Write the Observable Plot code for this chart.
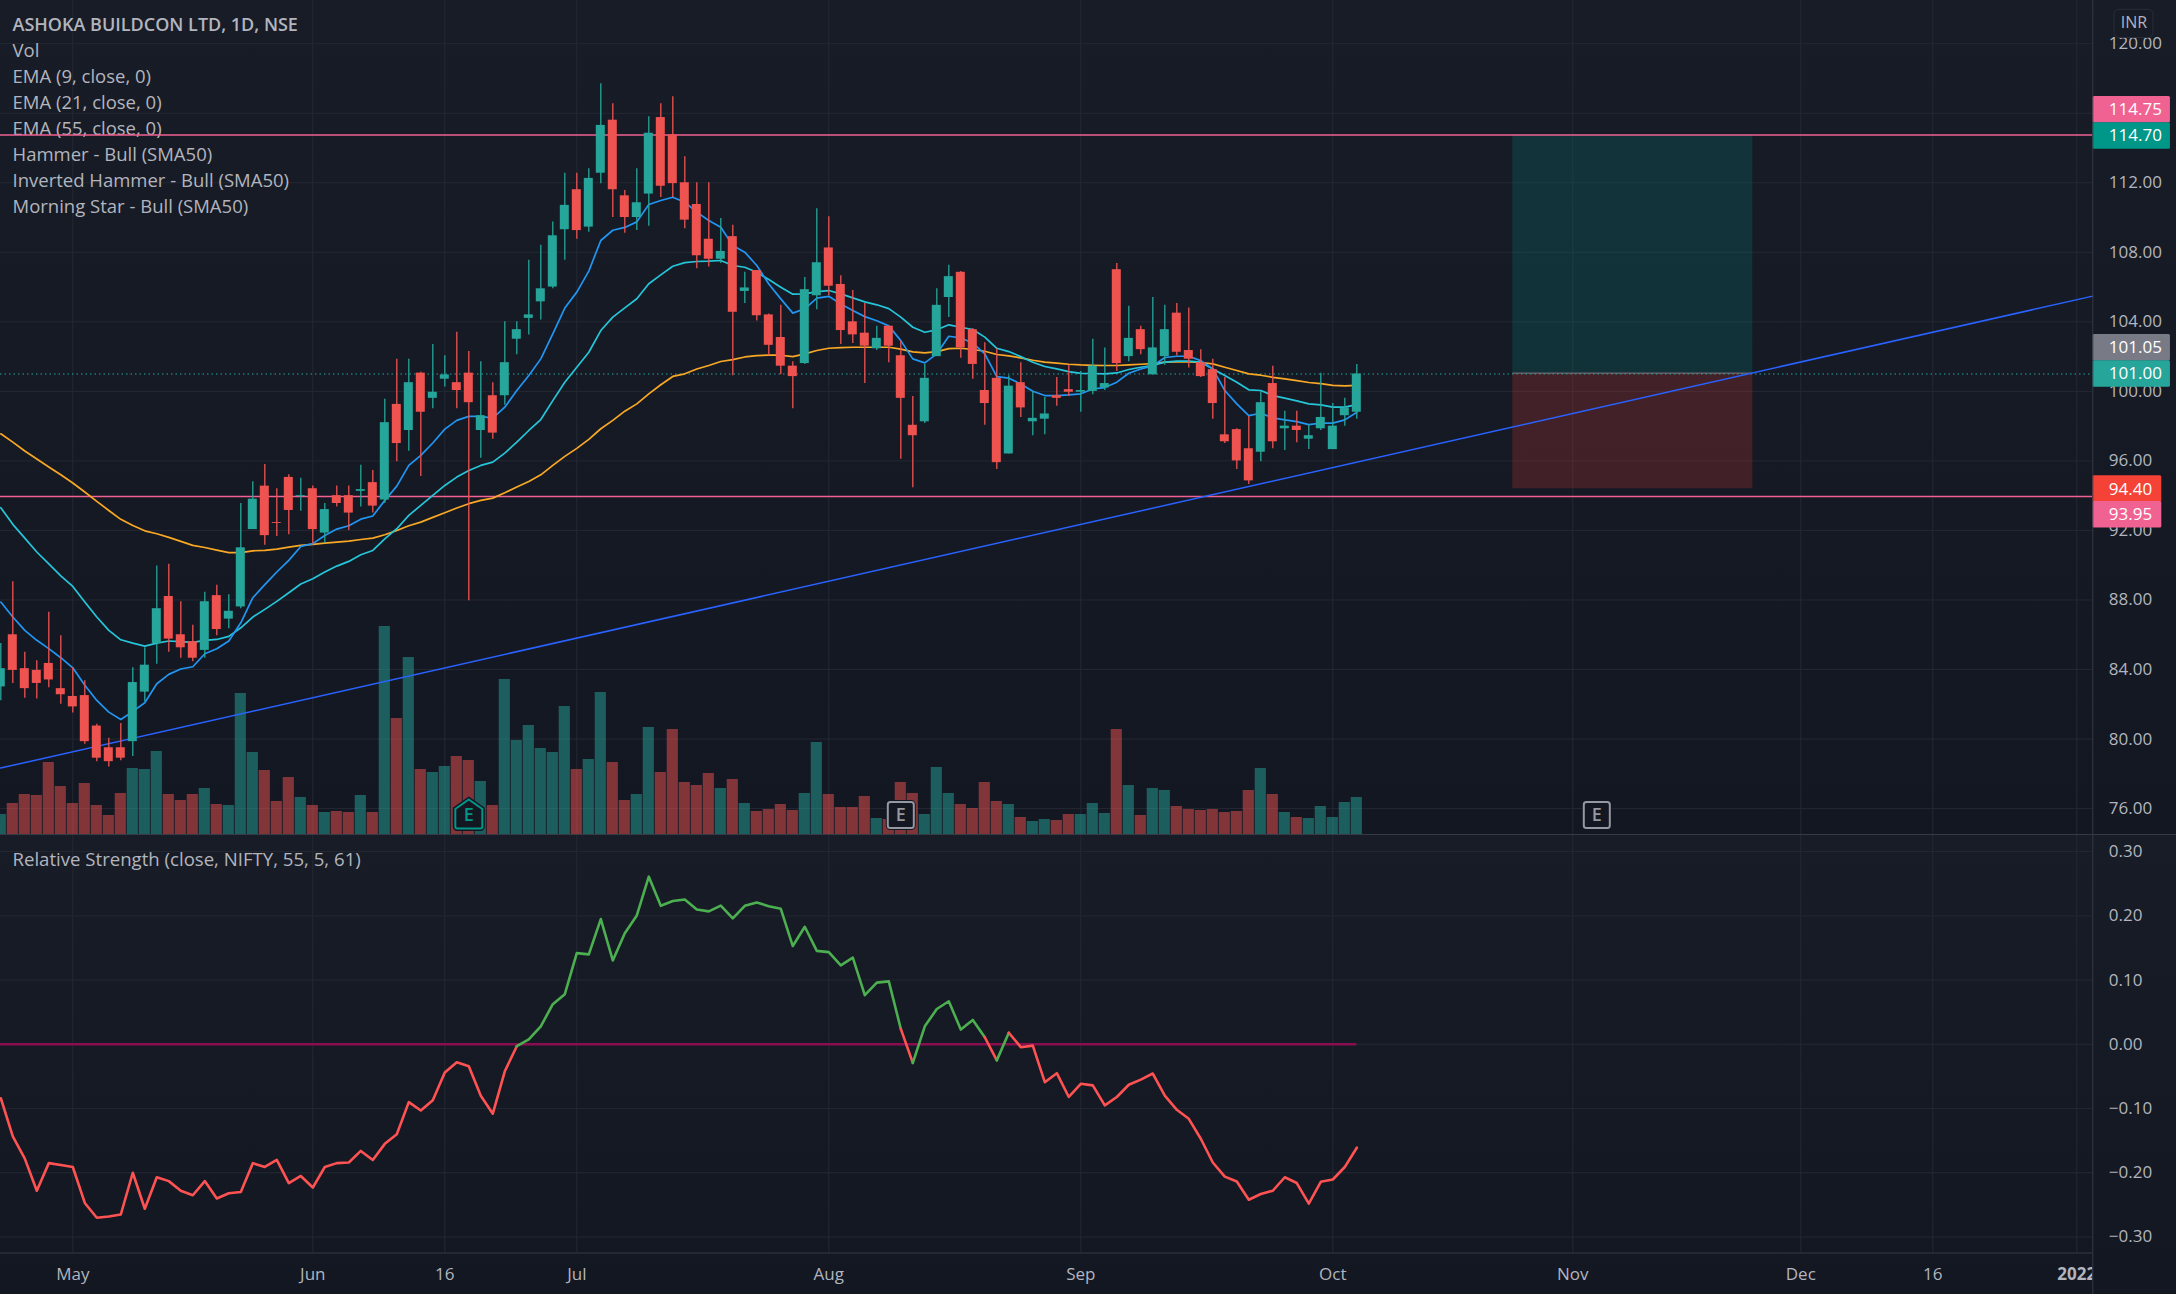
<!DOCTYPE html>
<html><head><meta charset="utf-8">
<script src="https://cdn.jsdelivr.net/npm/d3@7"></script>
<script src="https://cdn.jsdelivr.net/npm/@observablehq/plot@0.6"></script>
<style>
html,body{margin:0;padding:0;background:#131722}
#chart{position:relative;width:2176px;height:1294px;overflow:hidden}
.pane{position:absolute;left:0;width:2176px;background:linear-gradient(#181c27,#131722)}
.pane svg{position:absolute;left:0;top:0;background:transparent}
</style></head><body><div id="chart">
<div class="pane" id="top" style="top:0;height:834px"></div>
<div class="pane" id="low" style="top:834px;height:460px"></div>
</div>
<script>
// bar numbers count trading sessions from 3 May 2021
const firstBar = -6;
const opens = [
83.0,86.0,84.05,83.95,84.35,82.9,82.45,82.5,80.75,79.5,
79.5,79.85,82.7,85.5,88.2,86.0,85.6,85.1,88.25,86.9,
87.6,92.05,94.55,92.45,95.05,93.95,94.4,91.85,94.0,94.0,
94.25,94.75,93.75,99.25,97.75,101.05,99.6,100.7,100.5,101.05,
97.75,99.75,99.75,103.0,104.2,105.15,106.0,109.3,111.6,109.45,
112.55,115.6,111.25,110.0,111.35,115.75,114.75,112.0,110.75,108.75,
107.6,108.9,105.75,106.95,104.4,103.1,101.45,101.6,105.5,108.25,
106.15,104.0,103.35,102.45,103.75,102.05,98.05,98.25,102.0,105.4,
106.85,103.55,100.05,100.75,96.4,100.5,98.25,98.4,99.75,100.1,
99.95,100.0,100.2,107.0,102.0,103.55,100.95,102.0,104.5,102.35,
101.65,101.25,97.5,97.8,96.7,96.5,100.45,97.85,98.0,97.25,
97.85,96.65,98.6,98.8];
const highs = [
85.5,89.05,85.0,84.5,87.3,85.95,84.1,83.35,80.85,80.05,
80.9,84.1,85.25,89.95,90.05,87.9,86.55,88.45,88.85,88.3,
93.55,94.8,95.8,94.4,95.2,95.0,94.55,93.55,94.55,94.55,
95.75,95.45,99.55,101.85,101.85,101.1,102.7,102.05,103.4,102.3,
101.7,100.5,104.0,104.0,107.55,108.4,109.75,112.55,112.55,112.8,
117.7,116.55,111.55,112.8,115.8,116.55,116.95,113.5,112.0,112.0,
109.95,109.55,106.85,106.95,104.45,104.95,101.7,106.55,110.5,110.05,
106.65,105.8,105.05,103.75,103.75,102.9,99.7,101.55,105.9,107.25,
106.9,103.6,102.8,102.45,100.9,101.65,100.0,99.65,100.8,101.5,
101.15,103.0,102.5,107.35,104.9,103.75,105.4,104.95,105.05,104.8,
102.4,101.85,100.8,97.85,98.55,100.0,101.45,98.85,98.85,98.1,
101.05,99.3,99.6,101.55];
const lows = [
82.2,83.2,82.35,82.3,82.95,82.0,81.5,79.7,78.7,78.4,
78.75,79.0,82.15,84.3,85.0,84.65,84.45,84.65,85.95,86.35,
87.5,92.05,91.15,91.65,91.75,93.1,91.2,91.25,93.35,92.0,
93.35,93.0,93.55,95.95,96.55,95.1,99.0,100.25,99.0,87.95,
96.15,97.25,99.2,102.1,103.25,104.1,105.9,107.55,108.75,109.15,
111.95,110.0,109.1,109.25,109.5,111.15,111.15,109.35,107.05,107.15,
107.35,100.9,105.05,104.05,102.05,100.95,99.0,101.55,104.7,105.5,
102.7,102.75,100.45,102.35,101.65,96.1,94.45,98.15,102.0,104.25,
101.9,100.7,98.05,95.5,96.4,98.5,97.45,97.5,99.15,99.7,
98.8,99.8,100.05,101.15,101.7,102.1,100.95,101.5,102.05,101.35,
100.8,98.4,97.0,95.5,94.65,95.95,96.7,96.6,97.05,96.65,
97.75,96.65,98.0,98.4];
const closes = [
84.05,83.95,82.9,83.2,83.4,82.55,81.85,79.85,78.9,78.7,
78.9,83.25,84.25,87.5,85.75,85.25,84.65,87.9,86.3,87.35,
91.0,93.8,91.7,92.4,93.15,94.0,92.05,93.2,93.55,93.0,
94.35,93.4,98.2,97.0,100.5,98.8,99.95,100.95,100.05,99.35,
98.6,97.6,101.65,103.55,104.4,105.9,108.95,110.7,109.25,112.25,
115.3,111.6,110.0,110.85,114.85,111.8,111.95,109.85,107.8,107.6,
108.05,104.55,105.95,104.35,102.65,101.45,100.85,105.85,107.4,106.05,
103.5,103.25,102.6,103.05,102.6,99.6,97.45,100.75,104.95,106.6,
102.5,101.55,99.3,95.9,100.3,99.05,98.45,98.7,99.6,99.95,
100.05,101.45,100.45,101.6,103.05,102.4,102.5,103.55,102.25,101.85,
100.85,99.3,97.1,96.0,94.85,99.35,97.1,98.0,97.75,97.45,
98.5,98.0,99.05,101.0];
const volumes = [
60,93,120,117,216,144,93,153,87,57,
123,198,195,249,120,102,120,138,90,87,
423,246,192,99,171,111,87,66,69,66,
117,66,624,348,531,195,186,204,234,222,
159,87,465,282,327,258,246,384,195,225,
426,216,102,120,321,186,315,156,147,183,
138,165,93,69,75,90,72,123,276,120,
81,81,114,48,45,156,123,60,201,123,
90,78,156,99,90,51,39,45,42,60,
60,93,63,315,147,57,138,132,84,75,
72,75,66,69,132,198,120,66,51,48,
84,51,96,111];
const ema9 = [
87.88,87.02,86.25,85.68,85.2,84.68,84.1,83.09,82.22,81.55,
81.13,81.59,82.09,83.18,83.72,84.03,84.16,84.91,85.2,85.64,
86.69,88.13,88.88,89.61,90.28,91.08,91.24,91.71,92.08,92.27,
92.65,92.83,93.73,94.55,95.74,96.32,97.03,97.83,98.33,98.56,
98.56,98.46,99.09,100.05,100.91,101.87,103.31,104.79,105.71,106.92,
108.68,109.27,109.43,109.75,110.75,110.98,111.17,110.88,110.31,109.83,
109.44,108.39,108.01,107.24,106.18,105.32,104.5,104.75,105.36,105.47,
105.03,104.65,104.3,104.06,103.77,102.92,101.87,101.64,102.16,103.17,
103.08,102.77,102.16,100.85,100.76,100.43,100.01,99.76,99.76,99.8,
99.86,100.14,100.22,100.53,101.04,101.29,101.47,101.95,102.02,102.02,
101.77,101.29,100.05,99.28,98.61,98.74,98.48,98.36,98.26,98.09,
98.17,98.17,98.36,98.8];
const ema21 = [
93.31,92.35,91.56,90.76,90.08,89.39,88.78,87.88,87.02,86.25,
85.71,85.52,85.35,85.52,85.64,85.6,85.56,85.68,85.73,85.91,
86.4,87.02,87.46,87.92,88.42,88.92,89.22,89.61,89.95,90.22,
90.6,90.85,91.52,92.1,92.87,93.44,94.02,94.59,95.07,95.45,
95.74,95.93,96.45,97.08,97.75,98.38,99.47,100.53,101.39,102.25,
103.5,104.27,104.8,105.33,106.19,106.7,107.2,107.41,107.47,107.49,
107.53,107.24,107.14,106.85,106.43,105.99,105.59,105.61,105.74,105.8,
105.61,105.38,105.15,104.98,104.76,104.27,103.69,103.4,103.54,103.83,
103.69,103.56,103.12,102.48,102.29,102.0,101.68,101.43,101.29,101.14,
101.04,101.03,101.01,101.06,101.26,101.39,101.49,101.68,101.74,101.74,
101.68,101.29,100.91,100.53,100.09,100.05,99.76,99.61,99.45,99.28,
99.22,99.09,99.09,99.24];
const ema55 = [
97.56,97.08,96.57,96.11,95.65,95.2,94.73,94.21,93.67,93.15,
92.64,92.29,91.98,91.81,91.6,91.37,91.14,91.02,90.87,90.72,
90.72,90.83,90.85,90.93,91.04,91.14,91.2,91.27,91.33,91.39,
91.48,91.56,91.75,92.0,92.27,92.48,92.75,93.02,93.29,93.54,
93.73,93.86,94.17,94.5,94.82,95.2,95.74,96.26,96.72,97.24,
97.85,98.33,98.86,99.28,99.86,100.38,100.86,101.01,101.29,101.49,
101.72,101.83,101.98,102.06,102.08,102.08,102.0,102.16,102.35,102.48,
102.52,102.54,102.54,102.54,102.54,102.43,102.27,102.21,102.29,102.46,
102.48,102.41,102.31,102.12,102.04,101.93,101.79,101.68,101.62,101.56,
101.52,101.5,101.49,101.49,101.52,101.56,101.6,101.68,101.7,101.7,
101.66,101.58,101.39,101.2,101.01,100.93,100.81,100.72,100.62,100.51,
100.45,100.35,100.32,100.34];
const relStrength = [
-0.084,-0.1435,-0.178,-0.228,-0.185,-0.188,-0.191,-0.247,-0.27,-0.268,
-0.265,-0.2,-0.256,-0.207,-0.213,-0.228,-0.235,-0.213,-0.24,-0.232,
-0.23,-0.185,-0.191,-0.18,-0.216,-0.205,-0.223,-0.191,-0.185,-0.184,
-0.166,-0.18,-0.155,-0.14,-0.09,-0.103,-0.087,-0.044,-0.028,-0.034,
-0.08,-0.108,-0.042,-0.003,0.0075,0.028,0.0625,0.078,0.142,0.14,
0.195,0.1305,0.173,0.2006,0.261,0.2156,0.223,0.2255,0.21,0.207,
0.216,0.196,0.2156,0.2208,0.215,0.211,0.153,0.183,0.1455,0.1435,
0.123,0.135,0.0765,0.096,0.098,0.024,-0.029,0.028,0.055,0.067,
0.023,0.038,0.011,-0.025,0.018,-0.0045,-0.002,-0.059,-0.045,-0.082,
-0.0615,-0.064,-0.095,-0.082,-0.063,-0.055,-0.0455,-0.08,-0.102,-0.116,
-0.147,-0.184,-0.206,-0.2136,-0.242,-0.233,-0.228,-0.207,-0.216,-0.248,
-0.214,-0.2105,-0.191,-0.161];
// stretches of the relative strength line by colour: [first bar, last bar, is it above its average]
const rsRuns = [[-6,37,false],[37,69,true],[69,70,false],[70,76,true],[76,77,false],[77,78,true],[78,107,false]];

const priceTicks = [120,116,112,108,104,100,96,92,88,84,80,76];
const rsTicks = [0.3,0.2,0.1,0,-0.1,-0.2,-0.3];
const timeTickBars = [0,20,31,42,63,84,105,125,144,155];
const timeTickLabels = ["May","Jun","16","Jul","Aug","Sep","Oct","Nov","Dec","16"];
const yearTickBars = [167];
const yearTickLabels = ["2022"];
const legendLines = ["Vol","EMA (9, close, 0)","EMA (21, close, 0)","EMA (55, close, 0)","Hammer - Bull (SMA50)","Inverted Hammer - Bull (SMA50)","Morning Star - Bull (SMA50)"];
const titleText = "ASHOKA BUILDCON LTD, 1D, NSE";
const rsLegend = "Relative Strength (close, NIFTY, 55, 5, 61)";

const resistance = 114.75, support = 93.95, lastClose = 101.0;
const trendFrom = [-6.025,78.33], trendTo = [168.33,105.48];
const positionBars = [120,140], positionLevels = [114.75,101.05,94.4];
const earningsBars = [33,69,127];
const earningsPrice = 75.63;
// price tags on the right axis: text, price it is centred at
const tagTexts = ["114.75","114.70","101.05","101.00","94.40","93.95"];
const tagCentres = [116.2,114.69,102.51,101.0,94.38,92.9];
const tagColours = ["#f06292","#009688","#787b86","#26a69a","#f44336","#f06292"];
const tagWidths = [6.47,6.47,6.47,6.47,5.75,5.75];

const UP="#26a69a", DOWN="#ef5350", GRID="#242833", BORDER="#363a45", TEXT="#b2b5be";
const FONT="'Open Sans',sans-serif";
const rows = opens.map((o,k)=>({i:k+firstBar,open:o,high:highs[k],low:lows[k],close:closes[k],vol:volumes[k],e9:ema9[k],e21:ema21[k],e55:ema55[k],rs:relStrength[k]}));
const isUp = d=>d.close>=d.open;
const upRows = rows.filter(isUp), downRows = rows.filter(d=>!isUp(d));
const xOpts = {axis:null,domain:[-6.025,168.333],range:[0,2092.3]};
const mr = 83.7;
const gridBars = [...timeTickBars,...yearTickBars];
const barW=.375, volW=.465, xAxis=168.333, xEnd=182;
const labelFor = d=>timeTickLabels[timeTickBars.indexOf(d)];
const priceY = {axis:null,domain:[74.51,122.485],range:[834,0]};

// grid layer
document.getElementById("top").append(Plot.plot({
  width:2176,height:834,margin:0,marginRight:mr,
  x:xOpts,y:priceY,style:{background:"transparent"},
  marks:[
    Plot.gridX(gridBars,{stroke:GRID,strokeOpacity:1}),
    Plot.gridY(priceTicks,{stroke:GRID,strokeOpacity:1,x1:-6.025,x2:xAxis})
  ]}));
// volume layer
document.getElementById("top").append(Plot.plot({
  width:2176,height:834,margin:0,marginRight:mr,
  x:xOpts,y:{axis:null,domain:[0,2502],range:[834,0]},
  style:{background:"transparent"},
  marks:[
    Plot.rect(upRows,{x1:d=>d.i-volW,x2:d=>d.i+volW,y1:0,y2:"vol",fill:UP,fillOpacity:.5}),
    Plot.rect(downRows,{x1:d=>d.i-volW,x2:d=>d.i+volW,y1:0,y2:"vol",fill:DOWN,fillOpacity:.5})
  ]}));

const house = {draw(c,s){const r=Math.sqrt(s/Math.PI);
  c.moveTo(0,-r*1.15);c.lineTo(r,-r*.45);c.lineTo(r,r*.85);c.arcTo(r,r,r*.85,r,r*.15);c.lineTo(-r*.85,r);c.arcTo(-r,r,-r,r*.85,r*.15);c.lineTo(-r,-r*.45);c.closePath();}};
const roundSq = {draw(c,s){const r=Math.sqrt(s/Math.PI),q=r*.2;
  c.moveTo(-r+q,-r);c.lineTo(r-q,-r);c.arcTo(r,-r,r,-r+q,q);c.lineTo(r,r-q);c.arcTo(r,r,r-q,r,q);c.lineTo(-r+q,r);c.arcTo(-r,r,-r,r-q,q);c.lineTo(-r,-r+q);c.arcTo(-r,-r,-r+q,-r,q);c.closePath();}};

// price layer
document.getElementById("top").append(Plot.plot({
  width:2176,height:834,margin:0,marginRight:mr,
  x:xOpts,y:priceY,
  style:{background:"transparent",color:TEXT,fontFamily:FONT,fontSize:"17px"},
  marks:[
    Plot.text([titleText],{text:d=>d,frameAnchor:"top-left",dx:12,dy:24.7,lineAnchor:"middle",textAnchor:"start",fontWeight:600,fontSize:18,fill:TEXT}),
    ...legendLines.map((t,k)=>Plot.text([t],{text:d=>d,frameAnchor:"top-left",dx:12,dy:50.7+26*k,lineAnchor:"middle",textAnchor:"start",fontSize:18.5,fill:TEXT})),
    Plot.rect([0],{x1:positionBars[0],x2:positionBars[1],y1:positionLevels[0],y2:positionLevels[1],fill:"#009688",fillOpacity:.2}),
    Plot.rect([0],{x1:positionBars[0],x2:positionBars[1],y1:positionLevels[1],y2:positionLevels[2],fill:"#f44336",fillOpacity:.2}),
    Plot.ruleY([positionLevels[1]],{x1:positionBars[0],x2:positionBars[1],stroke:"#787b86",strokeWidth:1}),
    Plot.ruleY([lastClose],{x1:-6.025,x2:xAxis,stroke:UP,strokeWidth:1,strokeDasharray:"1.5 3"}),
    Plot.ruleY([resistance],{x1:-6.025,x2:xAxis,stroke:"#f06292",strokeWidth:1.4}),
    Plot.ruleY([support],{x1:-6.025,x2:xAxis,stroke:"#f06292",strokeWidth:1.4}),
    Plot.line([trendFrom,trendTo],{x:d=>d[0],y:d=>d[1],stroke:"#2962ff",strokeWidth:1.5}),
    Plot.line(rows,{x:"i",y:"e55",stroke:"#f9a825",strokeWidth:1.7}),
    Plot.line(rows,{x:"i",y:"e21",stroke:"#26c6da",strokeWidth:1.7}),
    Plot.line(rows,{x:"i",y:"e9",stroke:"#2196f3",strokeWidth:1.7}),
    Plot.ruleX(upRows,{x:"i",y1:"low",y2:"high",stroke:UP,strokeWidth:1.3}),
    Plot.ruleX(downRows,{x:"i",y1:"low",y2:"high",stroke:DOWN,strokeWidth:1.3}),
    Plot.rect(upRows,{x1:d=>d.i-barW,x2:d=>d.i+barW,y1:"open",y2:"close",fill:UP}),
    Plot.rect(downRows,{x1:d=>d.i-barW,x2:d=>d.i+barW,y1:"open",y2:"close",fill:DOWN}),
    Plot.dot([earningsBars[0]],{x:d=>d,y:earningsPrice,r:13.5,symbol:house,fill:"#131722",stroke:"#131722",strokeWidth:5}),
    Plot.dot([earningsBars[0]],{x:d=>d,y:earningsPrice,r:13.5,symbol:house,fill:"#131722",stroke:"#009688",strokeWidth:2}),
    Plot.text([earningsBars[0]],{x:d=>d,y:earningsPrice,text:()=>"E",fill:"#009688",fontSize:18,fontWeight:600}),
    Plot.dot(earningsBars.slice(1),{x:d=>d,y:earningsPrice,r:13,symbol:roundSq,fill:"#131722",stroke:"#131722",strokeWidth:4}),
    Plot.dot(earningsBars.slice(1),{x:d=>d,y:earningsPrice,r:13,symbol:roundSq,fill:"#131722",stroke:"#9598a1",strokeWidth:2}),
    Plot.text(earningsBars.slice(1),{x:d=>d,y:earningsPrice,text:()=>"E",fill:"#9598a1",fontSize:18,fontWeight:600}),
    Plot.axisY(priceTicks,{anchor:"right",tickSize:0,tickPadding:16,tickFormat:d3.format(".2f"),label:null,fill:TEXT}),
    Plot.rect([0],{x1:170.14,x2:173.39,y1:120.33,y2:121.95,fill:"#171b26",fillOpacity:.92,stroke:"#2a2e39",rx:5}),
    Plot.text(["INR"],{text:d=>d,x:171.76,y:121.17,fill:TEXT,fontSize:16}),
    ...tagTexts.flatMap((t,k)=>[
      Plot.rect([0],{x1:xAxis,x2:xAxis+tagWidths[k],y1:tagCentres[k]-.76,y2:tagCentres[k]+.76,fill:tagColours[k],rx:1.5}),
      Plot.text([t],{text:d=>d,x:169.67,y:tagCentres[k],textAnchor:"start",fill:"#ffffff"})
    ]),
    Plot.ruleX([xAxis],{y1:74.51,y2:122.485,stroke:BORDER,strokeWidth:1})
  ]}));

// relative strength pane
const yLow=-0.3895;
document.getElementById("low").append(Plot.plot({
  width:2176,height:460,margin:0,marginRight:mr,marginBottom:41.5,
  x:xOpts,y:{axis:null,domain:[-0.32492,0.32664],range:[418.5,0]},
  style:{background:"transparent",color:TEXT,fontFamily:FONT,fontSize:"17px"},
  marks:[
    Plot.gridX(gridBars,{stroke:GRID,strokeOpacity:1}),
    Plot.gridY(rsTicks,{stroke:GRID,strokeOpacity:1,x1:-6.025,x2:xAxis}),
    Plot.text([rsLegend],{text:d=>d,frameAnchor:"top-left",dx:12,dy:25.3,lineAnchor:"middle",textAnchor:"start",fontSize:18.6,fill:TEXT}),
    Plot.ruleY([0],{x1:-6.025,x2:107,stroke:"#880e4f",strokeWidth:2.6}),
    ...rsRuns.map(([a,b,up])=>Plot.line(rows.filter(d=>d.i>=a&&d.i<=b),{x:"i",y:"rs",stroke:up?"#4caf50":"#ff5252",strokeWidth:2.6})),
    Plot.axisY(rsTicks,{anchor:"right",tickSize:0,tickPadding:16,tickFormat:d3.format(".2f"),label:null,fill:TEXT}),
    Plot.axisX(timeTickBars,{anchor:"bottom",tickSize:0,tickPadding:14.5,tickFormat:labelFor,label:null,fill:TEXT}),
    Plot.axisX(yearTickBars,{anchor:"bottom",tickSize:0,tickPadding:14.5,tickFormat:()=>yearTickLabels[0],label:null,fontWeight:700,fill:TEXT}),
    Plot.rect([0],{x1:xAxis,x2:xEnd,y1:-0.32492,y2:yLow,fill:"#131722"}),
    Plot.ruleY([-0.32492],{x1:-6.025,x2:xAxis,stroke:BORDER,strokeWidth:1}),
    Plot.ruleY([0.32664],{x1:-6.025,x2:xEnd,stroke:BORDER,strokeWidth:1}),
    Plot.ruleX([xAxis],{y1:yLow,y2:0.32664,stroke:BORDER,strokeWidth:1})
  ]}));
</script></body></html>
